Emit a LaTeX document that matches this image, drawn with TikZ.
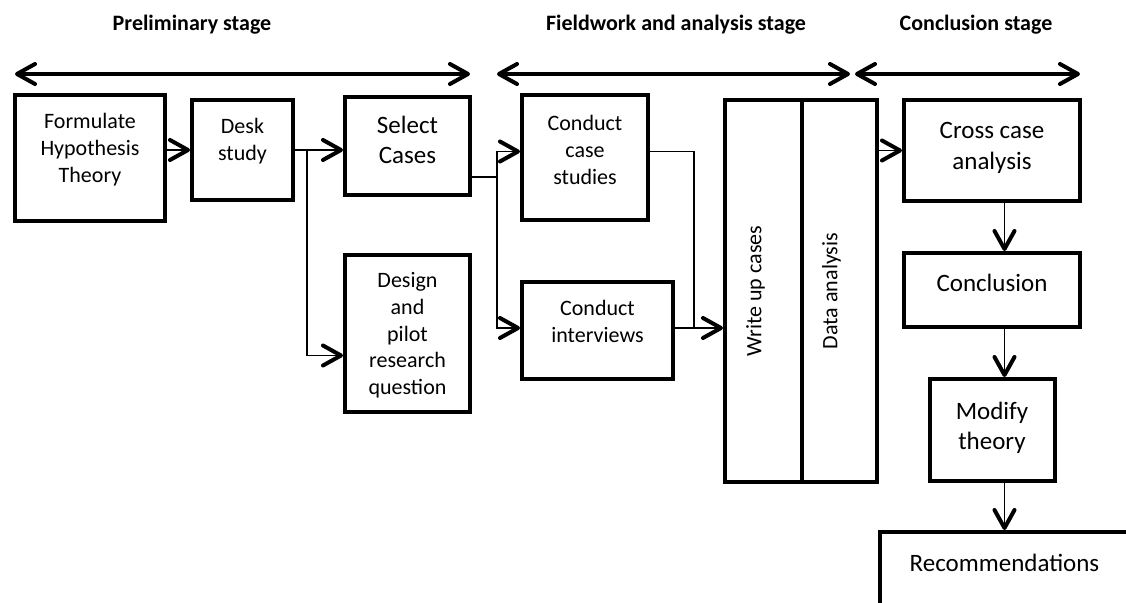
\documentclass[tikz,border=0pt]{standalone}
\usepackage{fontspec}
\setmainfont{Carlito}
\usepackage{tikz}
\usetikzlibrary{arrows.meta,%
                shapes,positioning}

\begin{document}
\begin{tikzpicture}[x=0.5pt,y=-0.5pt,node distance=24pt]
\tikzset{BoxStyle/.style = {shape          = rectangle,
                              draw,
                              line width     = 2pt,
                              align          = center,
                              inner sep      = 3pt,
                              font           = \fontsize{11}{13.4}\selectfont},
         BigStyle/.style   = {BoxStyle,font=\fontsize{12.5}{15.25}\selectfont},
         EdgeStyle/.style  = {line width=0.75pt},
         ArrowStyle/.style = {EdgeStyle,-{Straight Barb[length=9pt,width=10pt,line width'=2pt,round]}},
         StageStyle/.style = {line width=2pt,{Straight Barb[length=9pt,width=10pt,round]}-{Straight Barb[length=9pt,width=10pt,round]}},
         HeadStyle/.style  = {font=\fontsize{11}{13}\selectfont\bfseries}}
     \useasboundingbox (0,0) rectangle (1126,603);
     \clip (0,0) rectangle (1126,603);
     % stages
     \node[HeadStyle](HP) at (192,25){Preliminary stage};
     \node[HeadStyle](HF) at (676,25){Fieldwork and analysis stage};
     \node[HeadStyle](HC) at (976,25){Conclusion stage};
     \coordinate (P1) at (15,74);  \coordinate (P2) at (470,74);
     \coordinate (F1) at (497,74); \coordinate (F2) at (850,74);
     \coordinate (C1) at (855,74); \coordinate (C2) at (1080,74);
     \draw[StageStyle](P1) -- (P2);
     \draw[StageStyle](F1) -- (F2);
     \draw[StageStyle](C1) -- (C2);
     % boxes
     \node[BoxStyle,minimum width=75pt,minimum height=63pt,text depth=10.4pt](FH) at (90,158){Formulate\\Hypothesis\\Theory};
     \node[BoxStyle,minimum width=50.5pt,minimum height=50pt,text depth=11pt](DS) at (242.5,150){Desk\\study};
     \node[BigStyle,minimum width=62.5pt,minimum height=49pt,text depth=6pt](SC) at (407.5,146){Select\\Cases};
     \node[BoxStyle,minimum width=62.5pt,minimum height=78.5pt,text depth=-2pt](DP) at (407.5,333.5){Design\\and\\pilot\\research\\question};
     \node[BoxStyle,minimum width=63pt,minimum height=62.5pt,text depth=7.5pt](CC) at (585,157.5){Conduct\\case\\studies};
     \node[BoxStyle,minimum width=75.5pt,minimum height=48.5pt,text depth=9.5pt](CI) at (597.5,330.5){Conduct\\interviews};
     \node[BoxStyle,minimum width=38.5pt,minimum height=191pt](WU) at (763.5,291){\rotatebox{90}{Write up cases}\hspace{8pt}};
     \node[BoxStyle,minimum width=37.5pt,minimum height=191pt,right=-2pt of WU](DA){\rotatebox{90}{Data analysis}\hspace{8pt}};
     \node[BigStyle,minimum width=88pt,minimum height=50.5pt,text depth=4.4pt](CX) at (992,150.5){Cross case\\analysis};
     \node[BigStyle,minimum width=88pt,minimum height=37pt,text depth=7pt,below=of CX](CO){Conclusion};
     \node[BigStyle,minimum width=62.5pt,minimum height=51pt,text depth=4.4pt,below=of CO](MT){Modify\\theory};
     \node[BigStyle,minimum width=125pt,minimum height=80pt,text depth=49pt,below=23.5pt of MT,xshift=6.25pt](RE){Recommendations};
     % connectors
     \draw[ArrowStyle](FH.east |- DS.west) -- (DS.west);
     \draw[ArrowStyle](DS.east) -- (DS.east -| SC.west);
     \coordinate (J1) at (307,150);
     \draw[ArrowStyle](J1) |- ([yshift=-11pt]DP.west);
     \coordinate (J2) at (497,177);
     \draw[EdgeStyle](SC.east |- J2) -- (J2);
     \draw[ArrowStyle](J2) |- ([yshift=3pt]CC.west);
     \draw[ArrowStyle](J2) |- ([yshift=1.25pt]CI.west);
     \coordinate (J3) at (694,328);
     \draw[EdgeStyle]([yshift=3pt]CC.east) -| (J3);
     \draw[ArrowStyle]([yshift=1.25pt]CI.east) -- ([yshift=1.25pt]CI.east -| WU.west);
     \draw[ArrowStyle](DA.east |- CX.west) -- (CX.west);
     \draw[ArrowStyle](CX.south -| RE.north) -- (CO.north -| RE.north);
     \draw[ArrowStyle](CO.south -| RE.north) -- (MT.north -| RE.north);
     \draw[ArrowStyle](MT.south -| RE.north) -- (RE.north);
\end{tikzpicture}
\end{document}
